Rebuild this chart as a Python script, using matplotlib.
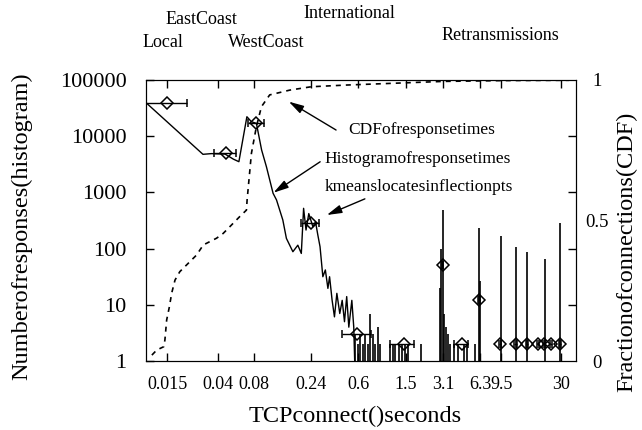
import matplotlib
matplotlib.use("Agg")
import matplotlib.pyplot as plt
from matplotlib.ticker import FixedLocator, NullLocator
import matplotlib.transforms as mtransforms

plt.rcParams['font.family'] = ['Liberation Serif', 'DejaVu Serif']

# histogram of response times (smooth part)
hist_x = [0.0100, 0.0300, 0.0354, 0.0460, 0.0540, 0.0600, 0.0700, 0.0764, 0.0841,
          0.0930, 0.1020, 0.1160, 0.1240, 0.1400, 0.1500, 0.1700, 0.1870, 0.2000,
          0.2090, 0.2190, 0.2310, 0.2500, 0.2630, 0.2750, 0.2870, 0.3030, 0.3180,
          0.3340, 0.3450, 0.3620, 0.3790, 0.3970, 0.4200, 0.4400, 0.4600, 0.4800,
          0.5000, 0.5300, 0.5500, 0.5600]
hist_y = [39500, 4760, 4900, 4800, 3900, 3520, 22200, 18100, 16900,
          5680, 2870, 964, 733, 323, 152, 88, 115, 82,
          521, 214, 420, 245, 300, 175, 108, 31.6, 41.7,
          19.6, 31.6, 12.2, 6.1, 16, 7, 12, 5, 14,
          4, 12, 4, 1]

# isolated bins in the tail (count rises from 1)
spike_x = [0.567, 0.594, 0.622, 0.654, 0.689, 0.720, 0.754, 0.792, 0.834, 0.873,
           0.914, 1.107, 1.164, 1.227, 1.307, 1.395, 1.487, 1.554, 2.01, 2.90,
           2.95, 3.05, 3.15, 3.27, 3.40, 3.53, 3.81, 4.07, 4.62, 4.93, 5.71,
           6.17, 6.30, 9.37, 12.5, 15.6, 22.0, 29.1]
spike_y = [3, 2, 3, 2, 3, 2, 7, 3, 2, 4,
           2, 2, 2, 2, 2, 2, 2, 2, 2, 20,
           100, 480, 7, 4, 3, 2, 2, 2, 2, 2, 2,
           230, 26, 168, 108, 88, 65, 280]

# CDF of response times
cdf_x = [0.0112, 0.0123, 0.0141, 0.0144, 0.0149, 0.0157, 0.0164, 0.0175, 0.0192,
         0.0219, 0.0265, 0.0302, 0.0390, 0.0443, 0.0504, 0.0610, 0.0694, 0.0703,
         0.0764, 0.0841, 0.0927, 0.1087, 0.1600, 0.2420, 0.4750, 1.5, 3.1, 10, 35]
cdf_y = [0.021, 0.039, 0.051, 0.075, 0.146, 0.193, 0.241, 0.288, 0.318,
         0.342, 0.377, 0.413, 0.437, 0.454, 0.478, 0.514, 0.537, 0.573,
         0.739, 0.834, 0.905, 0.947, 0.964, 0.976, 0.982, 0.990, 0.995, 0.998, 0.999]

# kmeans cluster centres with ranges
km_x = [0.015, 0.0464, 0.083, 0.242, 0.58, 1.44, 3.05, 4.43, 6.17,
        9.3, 12.5, 15.6, 19.3, 21.5, 24.5, 29.5]
km_y = [38500, 5020, 17400, 289, 3.0, 2, 51, 2, 12,
        2, 2, 2, 2, 2, 2, 2]
km_lo = [0.0100, 0.0372, 0.0716, 0.197, 0.44, 1.107, 3.0, 3.81, 6.05,
         9.1, 12.2, 15.2, 18.9, 21.1, 24.0, 29.0]
km_hi = [0.0221, 0.0564, 0.0967, 0.284, 0.768, 1.76, 3.1, 5.02, 6.3,
         9.5, 12.8, 16.0, 19.7, 21.9, 25.0, 30.0]

x_ticks = [0.015, 0.04, 0.08, 0.24, 0.6, 1.5, 3.1, 6.3, 9.5, 30]
x_ticklabels = ['0.015', '0.04', '0.08', '0.24', '0.6', '1.5', '3.1', '6.3', '9.5', '30']
y_ticks = [1, 10, 100, 1000, 10000, 100000]
y_ticklabels = ['1', '10', '100', '1000', '10000', '100000']

regions = ['Local', 'EastCoast', 'WestCoast', 'International', 'Retransmissions']
region_x = [0.0139, 0.0294, 0.1026, 0.506, 9.25]
region_y = [1.132, 1.214, 1.132, 1.238, 1.157]

fig = plt.figure(figsize=(6.42, 4.30), dpi=100)
ax = fig.add_axes([146 / 642, 69 / 430, 430 / 642, 281 / 430])
ax2 = ax.twinx()

ax.plot(hist_x, hist_y, color='black', lw=1.0, zorder=3)
ax.vlines(spike_x, 1, spike_y, color='black', lw=1.2, zorder=3)
ax2.plot(cdf_x, cdf_y, color='black', lw=1.2, linestyle=(0, (3, 3)))

xerr = [[c - l for c, l in zip(km_x, km_lo)], [h - c for c, h in zip(km_x, km_hi)]]
ax.errorbar(km_x, km_y, xerr=xerr, fmt='D', ms=6, mfc='none', mec='black', mew=1.1,
            ecolor='black', elinewidth=1.0, capsize=3, zorder=4)

ax.set_xscale('log')
ax.set_yscale('log')
ax.set_xlim(0.01, 40)
ax.set_ylim(1, 100000)
ax2.set_ylim(0, 1)

ax.xaxis.set_major_locator(FixedLocator(x_ticks))
ax.set_xticklabels(x_ticklabels)
ax.xaxis.set_minor_locator(NullLocator())
ax.yaxis.set_major_locator(FixedLocator(y_ticks))
ax.set_yticklabels(y_ticklabels)
ax.yaxis.set_minor_locator(NullLocator())
ax.tick_params(axis='x', which='major', direction='in', top=True, length=5.5, width=1,
               labelsize=13, pad=11)
ax.tick_params(axis='y', which='major', direction='in', length=5.5, width=1,
               labelsize=16, pad=14)

ax2.yaxis.set_major_locator(FixedLocator([0, 0.5, 1]))
ax2.set_yticklabels(['0', '0.5', '1'])
ax2.yaxis.set_minor_locator(FixedLocator([0.2, 0.4, 0.6, 0.8]))
ax2.tick_params(axis='y', which='major', length=0, labelsize=13.5, pad=15)
ax2.tick_params(axis='y', which='minor', direction='in', length=5.5, width=1)
for lab in ax2.get_yticklabels():
    lab.set_horizontalalignment('center')

ax.set_xlabel('TCPconnect()seconds', fontsize=17.5)
ax.xaxis.set_label_coords(0.486, -0.196)
ax.xaxis.label.set_va('center')
ax.set_ylabel('Numberofresponses(histogram)', fontsize=17.5)
ax.yaxis.set_label_coords(-0.288, 0.48)
ax.yaxis.label.set_va('center')
ax2.set_ylabel('Fractionofconnections(CDF)', fontsize=17.5)
ax2.yaxis.set_label_coords(1.119, 0.39)
ax2.yaxis.label.set_va('center')

trans = mtransforms.blended_transform_factory(ax.transData, ax.transAxes)
for name, rx, ry in zip(regions, region_x, region_y):
    ax.text(rx, ry, name, transform=trans, ha='center', va='center', fontsize=13,
            clip_on=False)

arrow = dict(arrowstyle='-|>,head_length=0.9,head_width=0.25', color='black', lw=1.0,
             shrinkA=0, shrinkB=0)
ax.text(0.470, 0.822, 'CDFofresponsetimes', transform=ax.transAxes, fontsize=12.5,
        ha='left', va='center')
ax.text(0.416, 0.719, 'Histogramofresponsetimes', transform=ax.transAxes, fontsize=12.5,
        ha='left', va='center')
ax.text(0.416, 0.619, 'kmeanslocatesinflectionpts', transform=ax.transAxes, fontsize=12.5,
        ha='left', va='center')
ax2.annotate('', xy=(0.157, 0.923), xycoords='data', xytext=(0.442, 0.822),
             textcoords='axes fraction', arrowprops=arrow)
ax.annotate('', xy=(0.117, 988), xycoords='data', xytext=(0.405, 0.709),
            textcoords='axes fraction', arrowprops=arrow)
ax.annotate('', xy=(0.327, 396), xycoords='data', xytext=(0.509, 0.577),
            textcoords='axes fraction', arrowprops=arrow)

fig.savefig('out.png', dpi=100)
